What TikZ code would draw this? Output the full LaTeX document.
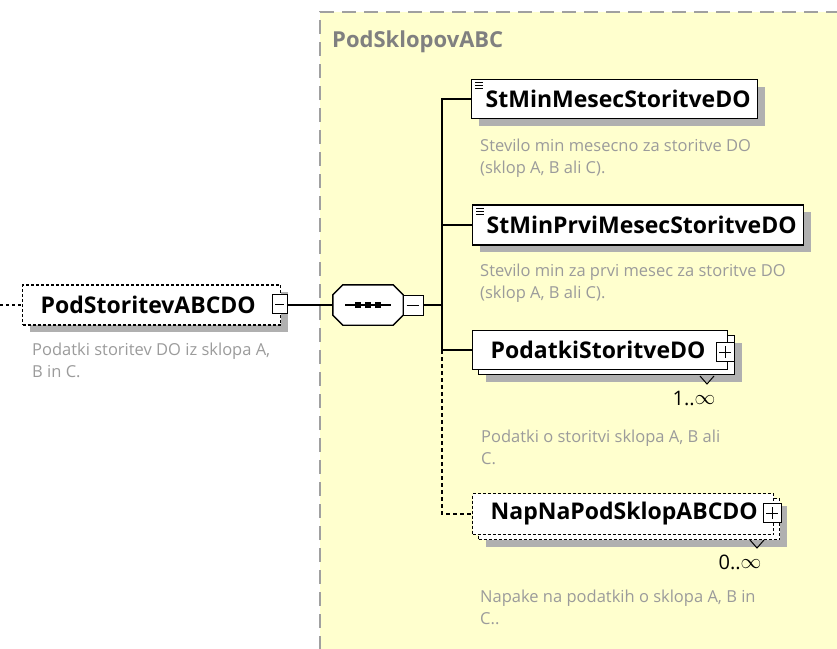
\documentclass[tikz,border=0pt]{standalone}
\usepackage{fontspec}
\setmainfont{Open Sans}
\usetikzlibrary{shadows}
\definecolor{ylw}{RGB}{255,255,206}
\definecolor{brd}{RGB}{160,160,160}
\definecolor{dsc}{RGB}{155,155,155}
\definecolor{shd}{RGB}{176,176,176}
\tikzset{
  shad/.style={drop shadow={shadow xshift=7pt,shadow yshift=-7pt,fill=shd,opacity=1}},
  elem/.style={draw=black,line width=1.4pt,fill=white,inner sep=0pt,
    font=\fontsize{23}{26}\selectfont\bfseries,anchor=west},
  optelem/.style={elem,dash pattern=on 3pt off 2pt},
  desc/.style={font=\fontsize{16.5}{22}\selectfont,text=dsc,anchor=north west,align=left,inner sep=0pt},
  mult/.style={font=\fontsize{20}{22}\selectfont,inner sep=0pt},
  pm/.style={draw=black,line width=1pt,fill=white,minimum width=15pt,minimum height=19pt,inner sep=0pt},
  conn/.style={line width=1.3pt},
}
\begin{document}
\begin{tikzpicture}[x=1pt,y=-1pt]
\useasboundingbox (0,0) rectangle (837,648);
% yellow group
\fill[ylw] (320,12) rectangle (840,650);
\draw[brd,line width=2pt,dash pattern=on 14pt off 8pt] (320,650) -- (320,12) -- (840,12);
\node[anchor=west,text=gray,font=\fontsize{22}{24}\selectfont\bfseries,inner sep=0pt] (grp) at (332,42) {PodSklopovABC};

% left element
\node[optelem,shad,minimum height=40pt] (root) at (22,305) {\makebox[258pt][l]{\hspace*{18pt}PodStoritevABCDO}};
\node[pm] (rootm) at (280,304) {};
\draw[line width=1pt] (rootm.west) ++(3,0) -- ++(9,0);
\coordinate (lft) at (0,305);
\draw[line width=1.2pt,dash pattern=on 3pt off 3pt] (lft) -- (root.west |- lft);
\node[desc] (rootd) at (32,343) {Podatki storitev DO iz sklopa A,\\B in C.};

% sequence compositor
\node[minimum width=70pt,minimum height=40pt,inner sep=0pt] (seq) at (368,305) {};
\fill[shd,shift={(7pt,7pt)}] ([xshift=10pt]seq.north west) -- ([xshift=-10pt]seq.north east) -- ([yshift=-10pt]seq.north east)
  -- ([yshift=10pt]seq.south east) -- ([xshift=-10pt]seq.south east) -- ([xshift=10pt]seq.south west)
  -- ([yshift=10pt]seq.south west) -- ([yshift=-10pt]seq.north west) -- cycle;
\filldraw[fill=white,draw=black,line width=1.4pt] ([xshift=10pt]seq.north west) -- ([xshift=-10pt]seq.north east) -- ([yshift=-10pt]seq.north east)
  -- ([yshift=10pt]seq.south east) -- ([xshift=-10pt]seq.south east) -- ([xshift=10pt]seq.south west)
  -- ([yshift=10pt]seq.south west) -- ([yshift=-10pt]seq.north west) -- cycle;
\draw[line width=1.2pt] (345,305) -- (391,305);
\foreach \xx in {358,368,378} \fill (\xx-3,302) rectangle (\xx+3,308);
\node[pm,minimum width=20pt,minimum height=20pt] (seqm) at (413,305) {};
\draw[line width=1pt] (seqm.west) ++(4,0) -- ++(12,0);
\draw[conn] (rootm.east |- seq.west) -- (seq.west);
\coordinate (bus) at (442,305);
\draw[conn] (seqm.east) -- (bus);

% child 1
\node[elem,shad,minimum height=39pt] (c1) at (471,99) {\makebox[286pt][l]{\hspace*{14pt}StMinMesecStoritveDO}};
\foreach \yy in {82,85,88} \draw[line width=0.9pt] (475,\yy) -- (483,\yy);
\node[desc] (c1d) at (480,139) {Stevilo min mesecno za storitve DO\\(sklop A, B ali C).};

% child 2
\node[elem,shad,minimum height=40pt] (c2) at (472,225) {\makebox[331pt][l]{\hspace*{14pt}StMinPrviMesecStoritveDO}};
\foreach \yy in {208,211,214} \draw[line width=0.9pt] (476,\yy) -- (484,\yy);
\node[desc] (c2d) at (480,264) {Stevilo min za prvi mesec za storitve DO\\(sklop A, B ali C).};

% child 3
\node[draw=black,line width=1.4pt,fill=white,shad,minimum width=256pt,minimum height=39pt,anchor=west,inner sep=0pt] (c3b) at (478,355) {};
\node[elem,minimum height=39pt] (c3) at (472,350) {\makebox[255pt][l]{\hspace*{18pt}PodatkiStoritveDO}};
\node[pm,minimum width=18pt,minimum height=19pt] (c3p) at (725,352) {};
\draw[line width=1pt] (c3p.center) ++(-6,0) -- ++(12,0) (c3p.center) ++(0,-6) -- ++(0,12);
\draw[line width=1pt] (700,376) -- (707,384) -- (714,376);
\node[mult] (c3m) at (694,398) {1..\raisebox{0.5pt}{$\infty$}};
\node[desc] (c3d) at (481,430) {Podatki o storitvi sklopa A, B ali\\C.};

% child 4
\node[optelem,shad,minimum width=301pt,minimum height=41pt,fill=white] (c4b) at (478,519) {};
\node[optelem,minimum height=41pt] (c4) at (472,514) {\makebox[301pt][l]{\hspace*{18pt}NapNaPodSklopABCDO}};
\node[pm,minimum width=18pt,minimum height=19pt] (c4p) at (772,513) {};
\draw[line width=1pt] (c4p.center) ++(-6,0) -- ++(12,0) (c4p.center) ++(0,-6) -- ++(0,12);
\draw[line width=1pt] (750,540) -- (757,548) -- (764,540);
\node[mult] (c4m) at (740,562) {0..\raisebox{0.5pt}{$\infty$}};
\node[desc] (c4d) at (480,590) {Napake na podatkih o sklopa A, B in\\C..};

% connectors
\draw[conn] (c1.west) -| (bus |- c3.west) -- (c3.west);
\draw[conn] (bus |- c2.west) -- (c2.west);
\draw[conn,dash pattern=on 4pt off 3pt] (bus |- c3.west) -- (bus |- c4.west) -- (c4.west);
\end{tikzpicture}
\end{document}
